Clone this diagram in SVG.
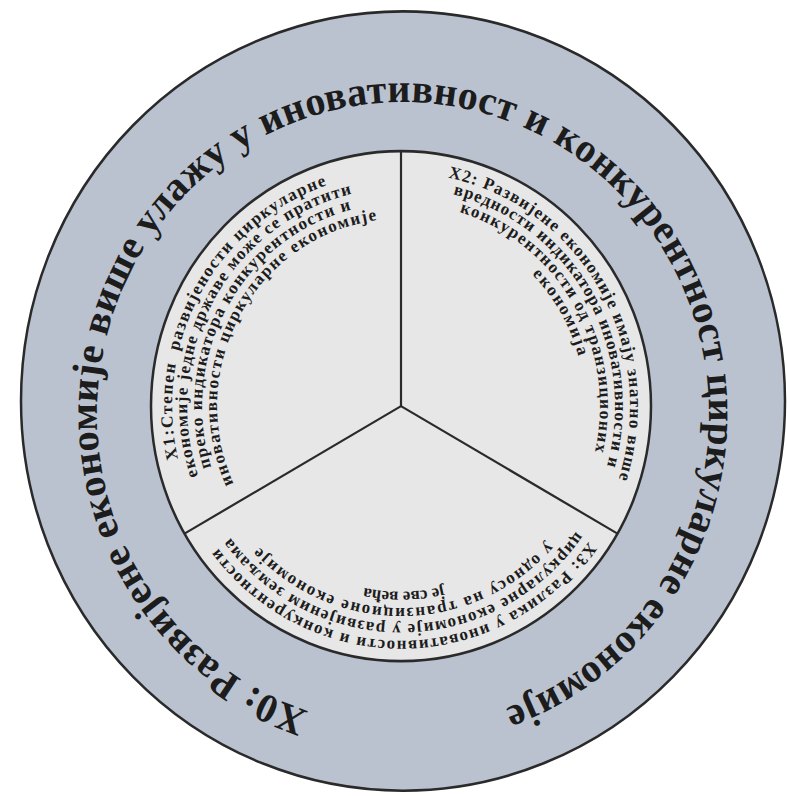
<svg xmlns="http://www.w3.org/2000/svg" xmlns:xlink="http://www.w3.org/1999/xlink" width="787" height="796" viewBox="0 0 787 796">
<style>
.ring{fill:#bac2d0;stroke:#2a2a2a;stroke-width:2.5}
.core{fill:#e7e7e7;stroke:#2a2a2a;stroke-width:2.5}
.div{stroke:#2a2a2a;stroke-width:2.2;fill:none}
.big{font-family:"Liberation Serif","Times New Roman",serif;font-weight:bold;font-size:40px;fill:#1c1c1c}
.sm{font-family:"Liberation Serif","Times New Roman",serif;font-weight:bold;font-size:17px;fill:#1c1c1c}
</style>
<defs>
<path id="pRing" d="M308.44 705.02 A306 306 0 1 1 497.56 705.02"/>
<path id="p11" d="M272.94 595.84 A229 229 0 0 1 494.13 196.81"/>
<path id="p12" d="M281.33 583.41 A214 214 0 0 1 488.03 210.51"/>
<path id="p13" d="M289.72 570.97 A199 199 0 0 1 481.93 224.21"/>
<path id="p14" d="M298.11 558.54 A184 184 0 0 1 475.83 237.92"/>
<path id="p21" d="M304.22 198.46 A229 229 0 0 1 532.35 593.60"/>
<path id="p22" d="M310.56 212.05 A214 214 0 0 1 523.75 581.31"/>
<path id="p23" d="M316.90 225.65 A199 199 0 0 1 515.15 569.02"/>
<path id="p24" d="M323.24 239.24 A184 184 0 0 1 506.54 556.73"/>
<path id="p31" d="M630.44 422.05 A230 230 0 0 1 172.26 430.04"/>
<path id="p32" d="M614.49 420.94 A214 214 0 0 1 188.18 428.36"/>
<path id="p33" d="M598.52 419.82 A198 198 0 0 1 204.09 426.69"/>
<path id="p34" d="M582.56 418.70 A182 182 0 0 1 220.00 425.02"/>
</defs>
<g transform="matrix(1 0 0 1.02 0 -8)">
<g id="x0">
<circle class="ring" cx="403" cy="401" r="382"/>
<text class="big"><textPath xlink:href="#pRing" href="#pRing" textLength="1722">X0: Развијене економије више улажу у иновативност и конкурентност циркуларне економије</textPath></text>
</g>
<g id="core">
<circle class="core" cx="401" cy="406" r="250"/>
</g>
<g id="connectors">
<line class="div" x1="401" y1="406" x2="401" y2="156"/>
<line class="div" x1="401" y1="406" x2="184.5" y2="531"/>
<line class="div" x1="401" y1="406" x2="617.5" y2="531"/>
</g>
<g id="x1">
<text class="sm" text-anchor="middle" xml:space="preserve"><textPath href="#p11" startOffset="50%" textLength="336">X1:Степен  развијености циркуларне</textPath></text>
<text class="sm" text-anchor="middle"><textPath href="#p12" startOffset="50%" textLength="356">економије једне државе може се пратити</textPath></text>
<text class="sm" text-anchor="middle"><textPath href="#p13" startOffset="50%" textLength="323">преко индикатора конкурентности и</textPath></text>
<text class="sm" text-anchor="middle"><textPath href="#p14" startOffset="50%" textLength="343">иновативности циркуларне економије</textPath></text>
</g>
<g id="x2">
<text class="sm" text-anchor="middle"><textPath href="#p21" startOffset="50%" textLength="385">X2: Развијене економије имају знатно више</textPath></text>
<text class="sm" text-anchor="middle"><textPath href="#p22" startOffset="50%" textLength="343">вредности индикатора иновативности и</textPath></text>
<text class="sm" text-anchor="middle"><textPath href="#p23" startOffset="50%" textLength="298">конкурентности од транзиционих</textPath></text>
<text class="sm" text-anchor="middle"><textPath href="#p24" startOffset="50%" textLength="94">економија</textPath></text>
</g>
<g id="x3">
<text class="sm" text-anchor="middle"><textPath href="#p31" startOffset="50%" textLength="431">X3: Разлика у иновативности и конкурентности</textPath></text>
<text class="sm" text-anchor="middle"><textPath href="#p32" startOffset="50%" textLength="403">циркуларне економије у развијеним земљама</textPath></text>
<text class="sm" text-anchor="middle"><textPath href="#p33" startOffset="50%" textLength="323">у односу на транзиционе економије</textPath></text>
<text class="sm" text-anchor="middle"><textPath href="#p34" startOffset="50%">је све већа</textPath></text>
</g>
</g>
</svg>
